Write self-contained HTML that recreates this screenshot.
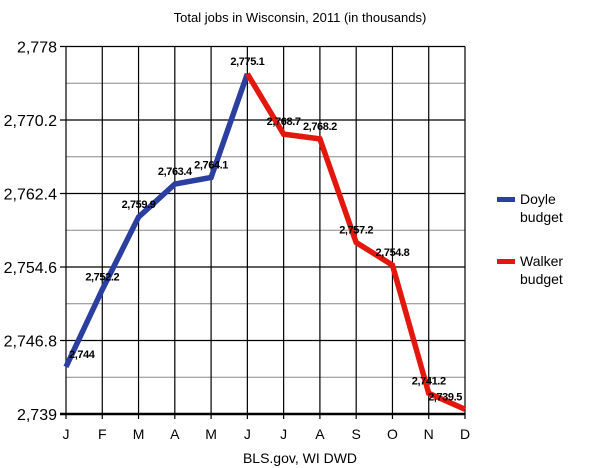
<!DOCTYPE html>
<html><head><meta charset="utf-8"><style>
body{margin:0;background:#fff;}
svg{display:block;font-family:"Liberation Sans",Arial,sans-serif;}
</style></head><body>
<svg width="601" height="468" viewBox="0 0 601 468">
<text x="300" y="22" font-size="13" text-anchor="middle">Total jobs in Wisconsin, 2011 (in thousands)</text>
<g id="grid"></g>
<g id="series"></g>
<g id="labels"></g>
<text x="300" y="463" font-size="14" text-anchor="middle">BLS.gov, WI DWD</text>
<g>
<rect x="497" y="197" width="18" height="5" fill="#2a3f9f"/>
<text x="520" y="204" font-size="14">Doyle</text>
<text x="520" y="222" font-size="14">budget</text>
<rect x="497" y="259" width="18" height="5" fill="#e3170d"/>
<text x="520" y="266" font-size="14">Walker</text>
<text x="520" y="284" font-size="14">budget</text>
</g>
</svg>
<script>
const months=["J","F","M","A","M","J","J","A","S","O","N","D"];
const jobs=[2744,2752.2,2759.9,2763.4,2764.1,2775.1,2768.7,2768.2,2757.2,2754.8,2741.2,2739.5];
const valueLabels=["2,744","2,752.2","2,759.9","2,763.4","2,764.1","2,775.1","2,768.7","2,768.2","2,757.2","2,754.8","2,741.2","2,739.5"];
const yTicks=[2778,2770.2,2762.4,2754.6,2746.8,2739];
const yTickLabels=["2,778","2,770.2","2,762.4","2,754.6","2,746.8","2,739"];
const yMin=2739,yMax=2778;
const X0=66,X1=465,Y0=414,Y1=46.5;
const NS="http://www.w3.org/2000/svg";
function xs(i){return X0+(X1-X0)*i/(months.length-1);}
function ys(v){return Y0-(v-yMin)/(yMax-yMin)*(Y0-Y1);}
function mk(t,a,p){const e=document.createElementNS(NS,t);for(const k in a)e.setAttribute(k,a[k]);p.appendChild(e);return e;}
const grid=document.getElementById('grid');
for(let i=0;i<yTicks.length-1;i++){
 const mid=(yTicks[i]+yTicks[i+1])/2;
 const l=mk('line',{x1:X0,x2:X1,y1:ys(mid),y2:ys(mid),stroke:'#888','stroke-width':1},grid);
 
 
}
yTicks.forEach((v,i)=>{
 const l=mk('line',{x1:X0-6,x2:X1,y1:ys(v),y2:ys(v),stroke:'#000','stroke-width':i===yTicks.length-1?2.5:1.2},grid);
 
 
 const t=mk('text',{x:X0-9,y:ys(v)+6,'font-size':16,'text-anchor':'end'},grid);
 t.textContent=yTickLabels[i];
 
 
});
months.forEach((m,i)=>{
 const l=mk('line',{x1:xs(i),x2:xs(i),y1:Y1,y2:Y0+5,stroke:'#000','stroke-width':1.2},grid);
 
 
 const t=mk('text',{x:xs(i),y:Y0+25,'font-size':14,'text-anchor':'middle'},grid);
 t.textContent=m;
 
 
});
const ser=document.getElementById('series');
function poly(a,b,color,name){
 const pts=[];for(let i=a;i<=b;i++)pts.push(xs(i)+','+ys(jobs[i]));
 const p=mk('polyline',{points:pts.join(' '),fill:'none',stroke:color,'stroke-width':5.5,'stroke-linejoin':'miter'},ser);
 
 
}
poly(0,5,'#2a3f9f','doyle-line');
poly(5,11,'#e3170d','walker-line');
const lab=document.getElementById('labels');
jobs.forEach((v,i)=>{
 const last=months.length-1;
 let anchor='middle',x=xs(i);
 if(i===0){anchor='start';x=xs(i)+3;}
 if(i===last){anchor='end';x=xs(i)-3;}
 const t=mk('text',{x:x,y:ys(v)-9,'font-size':11,'font-weight':'bold','text-anchor':anchor,'letter-spacing':'-0.4'},lab);
 t.textContent=valueLabels[i];
 
 
});
</script>
</body></html>
